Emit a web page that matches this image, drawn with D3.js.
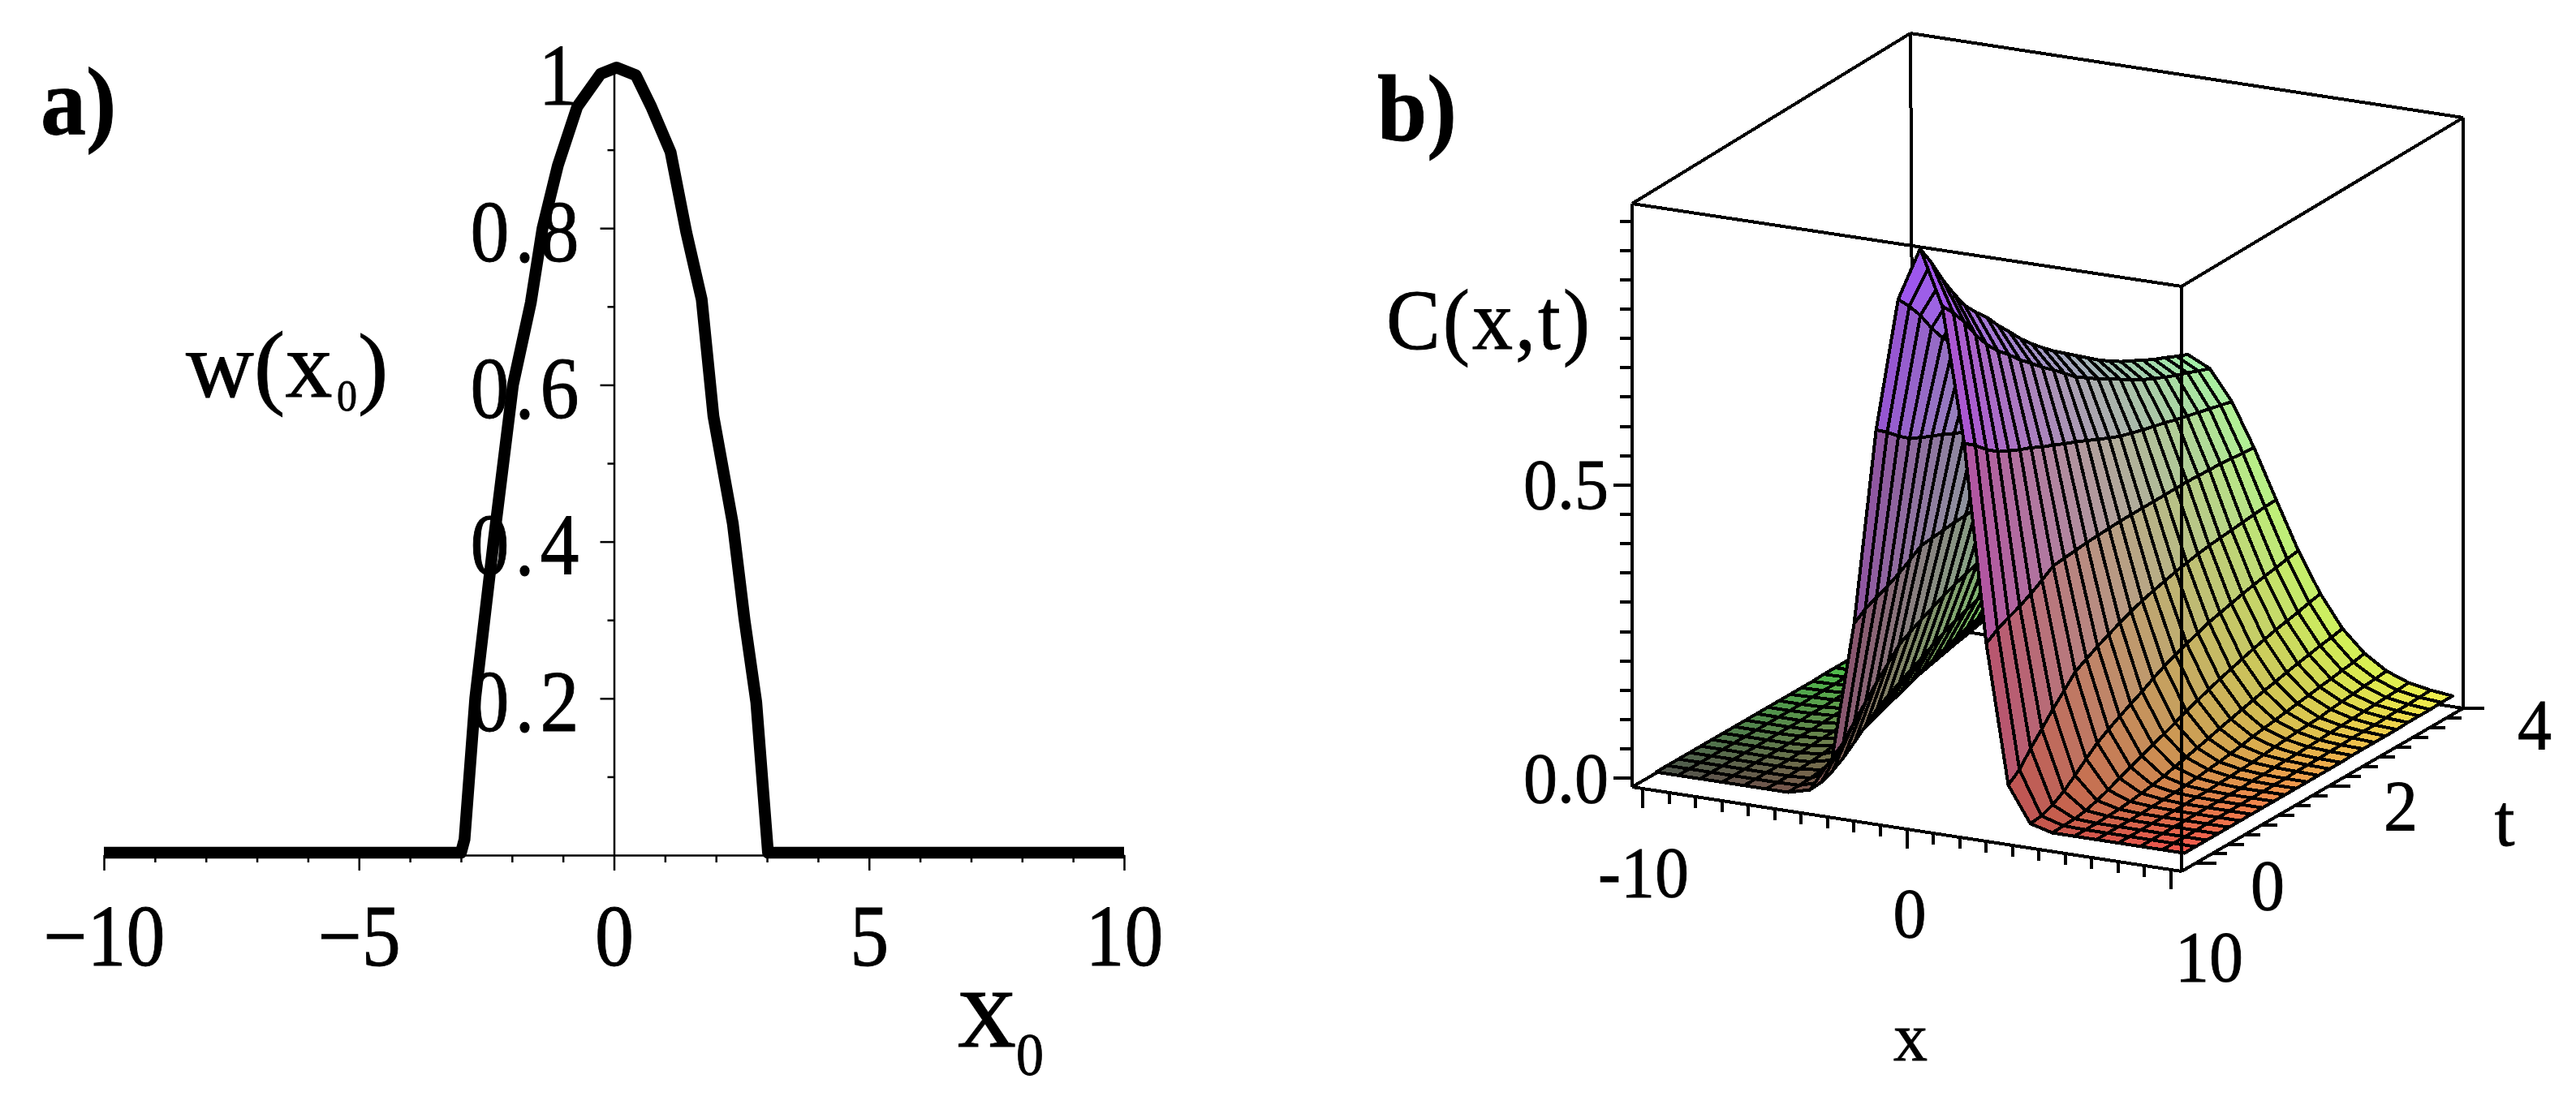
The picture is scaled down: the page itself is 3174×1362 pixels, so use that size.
<!DOCTYPE html>
<html><head><meta charset="utf-8">
<script src="https://cdn.jsdelivr.net/npm/d3@7/dist/d3.min.js"></script>
<style>html,body{margin:0;padding:0;background:#fff}svg{display:block}text{font-family:'Liberation Serif',serif;fill:#000;stroke:#000;stroke-width:.8px}</style>
</head><body><svg id="c" width="3174" height="1362"></svg>
<script>
// Panel a: w(x0)
const x0Values=[-10,-3,-2.93,-2.72,-2.36,-1.98,-1.63,-1.4,-1.1,-.72,-.26,.05,.43,.73,1.11,1.42,1.72,1.95,2.33,2.56,2.79,3.02,10];
const wValues=[.003,.003,.02,.2,.4,.6,.705,.8,.88,.955,.997,1.005,.995,.955,.897,.794,.709,.56,.423,.3,.195,.003,.003];
const xTicksA=d3.range(-10,11), yTicksA=d3.range(.1,1.01,.1);
// Panel b: C(x,t) x1000, rows for t = 0..4 in 24 steps, columns for 0..12 grid steps from the ridge
const cRows=[
[960,868,640,305,70,10],[925,845,625,318,85,12,1],[885,818,607,327,110,20,2],[850,785,592,335,132,32,5,1],
[818,757,582,345,155,48,11,2],[795,735,573,357,175,65,18,4,1],[775,717,565,370,196,81,27,7,2],
[750,697,555,372,207,93,35,10,3,1],[728,680,547,374,217,104,43,14,4,1],[705,662,538,376,226,114,51,19,6,2],
[685,646,530,377,235,124,58,24,9,3,1],[667,629,521,378,243,135,66,29,11,4,1],[650,612,512,379,250,145,75,34,14,5,2,1],
[635,599,503,379,256,153,82,40,17,7,3,1],[620,586,495,379,261,161,89,45,21,9,3,1],[605,575,489,379,266,168,96,50,24,11,4,2,1],
[590,563,483,379,270,175,102,55,27,13,5,2,1],[577,551,478,379,274,180,108,60,30,14,6,3,1],[565,540,473,379,277,185,114,64,33,15,7,3,1],
[555,531,467,378,279,190,119,69,36,18,8,3,1],[545,522,462,377,281,194,124,73,39,20,9,4,2],[535,514,457,376,283,198,128,77,42,22,10,5,2],
[527,507,452,374,285,201,132,81,45,24,11,5,2],[518,499,447,372,287,205,137,84,48,26,12,6,3],[510,492,442,370,288,208,141,88,52,28,14,7,3]];
const xTicksB=d3.range(-10,11), tTicksB=d3.range(0,4.01,.25), zTicksB=d3.range(0,.951,.05);

const svg=d3.select('#c');
function label(g,s,x,y,size,o={}){
  const t=g.append('text').text(s).attr('font-size',size).attr('text-anchor',o.anchor||'start')
   .attr('transform',`translate(${x},${y}) scale(1,${o.sy||1})`);
  if(o.bold)t.attr('font-weight','bold');
  if(o.len)t.attr('textLength',o.len).attr('lengthAdjust','spacing');
  return t;
}
// ---------- Panel a
const a=svg.append('g');
const xA=d3.scaleLinear([-10,10],[128,1385]), yA=d3.scaleLinear([0,1],[1054,88]);
const axB=a.append('g').attr('transform',`translate(0,${yA(0)})`)
 .call(d3.axisBottom(xA).tickValues(xTicksA).tickSizeOuter(0).tickFormat(d=>d%5===0?d3.format('d')(d):''));
axB.select('.domain').attr('stroke-width',2.5);
axB.selectAll('.tick line').attr('stroke-width',2.5).attr('y2',d=>d%5===0?19:9);
axB.selectAll('.tick text').attr('font-size',96).attr('y',0).attr('dy',0)
 .attr('transform','translate(0,136) scale(1,1.12)').attr('font-family',"'Liberation Serif',serif");
const axL=a.append('g').attr('transform',`translate(${xA(0)},0)`)
 .call(d3.axisLeft(yA).tickValues(yTicksA).tickSizeOuter(0).tickFormat(d=>{const r=Math.round(d*10);return r===10?'1':r%2===0?d3.format('.1f')(d):''}));
axL.select('.domain').attr('stroke-width',2.5);
axL.selectAll('.tick line').attr('stroke-width',2.5).attr('x2',d=>Math.round(d*10)%2===0?-17:-8);
axL.selectAll('.tick text').attr('font-size',96).attr('x',0).attr('dy',0).attr('y',0).style('letter-spacing','7px')
 .attr('text-anchor','end').attr('font-family',"'Liberation Serif',serif")
 .attr('transform',d=>`translate(${Math.round(d*10)===10?-38:-36},40) scale(1,1.12)`);
a.append('path').datum(d3.zip(x0Values,wValues)).attr('fill','none').attr('stroke','#000').attr('stroke-width',14.5)
 .attr('stroke-linejoin','round').attr('d',d3.line().x(d=>xA(d[0])).y(d=>yA(d[1])));
label(a,'a)',50,165,112,{bold:true,sy:1.05});
label(a,'w(x',229,489,116,{});
label(a,'0',415,506,50,{sy:1.1});
label(a,')',441,489,112,{});
label(a,'x',1180,1290,144,{});
label(a,'0',1252,1325,68,{sy:1.1});

// ---------- Panel b
const b=svg.append('g').attr('shape-rendering','crispEdges');
const fx=d3.scaleLinear([-10.4,10.4],[0,1]), ft=d3.scaleLinear([-.2,4],[0,1]), fz=d3.scaleLinear([-.015,.98],[0,1]);
const boxCorners={ // screen frame of the view box
 E:[2011,970],F:[2688,1074],G:[3035,873],H:[2358,769],A:[2011,251],B:[2688,353],C:[3035,145],D:[2354,41]};
function P(x,t,z){
  const u=fx(x),v=ft(t),w=fz(z),K=boxCorners;
  return [0,1].map(c=>{
    const bot=(K.E[c]*(1-u)+K.F[c]*u)*(1-v)+(K.H[c]*(1-u)+K.G[c]*u)*v;
    const top=(K.A[c]*(1-u)+K.B[c]*u)*(1-v)+(K.D[c]*(1-u)+K.C[c]*u)*v;
    return bot*(1-w)+top*w;});
}
const xMin=fx.domain()[0],xMax=fx.domain()[1],tMin=ft.domain()[0],tMax=ft.domain()[1],zMin=fz.domain()[0],zMax=fz.domain()[1];
const seg=(g,p,q,w=4)=>g.append('line').attr('x1',p[0]).attr('y1',p[1]).attr('x2',q[0]).attr('y2',q[1]).attr('stroke','#000').attr('stroke-width',w);
// back edges
seg(b,P(xMin,tMax,zMax),P(xMin,tMax,zMin));
seg(b,P(xMin,tMin,zMin),P(xMin,tMax,zMin));
seg(b,P(xMin,tMax,zMin),P(xMax,tMax,zMin));
seg(b,P(xMax,tMax,zMax),P(xMax,tMax,zMin));
// surface
const xi=d3.scaleLinear([0,24],[-10,10]), tj=d3.scaleLinear([0,24],[0,4]);
const Z=(i,j)=>(cRows[j][Math.abs(i-12)]||0)/1000;
const rScale=d3.scaleLinear([-10,10],[78,242]), gScale=d3.scaleLinear([0,4],[84,242]), bScale=d3.scaleLinear([0,.96],[76,248]);
const cells=[];
for(let j=24;j>=1;j--)for(let i=0;i<24;i++){
  const c=[[i,j-1],[i+1,j-1],[i+1,j],[i,j]];
  cells.push({pts:c.map(([m,n])=>P(xi(m),tj(n),Z(m,n))),
    col:d3.rgb(rScale(xi(i+.5)),gScale(tj(j-.5)),bScale(d3.mean(c,([m,n])=>Z(m,n)))).formatHex()});
}
b.append('g').selectAll('path').data(cells).join('path')
 .attr('d',d=>d3.line()(d.pts)+'Z').attr('fill',d=>d.col).attr('stroke','#000').attr('stroke-width',4).attr('stroke-linejoin','round');
// front edges
seg(b,P(xMin,tMin,zMax),P(xMax,tMin,zMax));
seg(b,P(xMax,tMin,zMax),P(xMax,tMax,zMax));
seg(b,P(xMax,tMax,zMax),P(xMin,tMax,zMax));
seg(b,P(xMin,tMax,zMax),P(xMin,tMin,zMax));
seg(b,P(xMin,tMin,zMax),P(xMin,tMin,zMin));
seg(b,P(xMax,tMin,zMax),P(xMax,tMin,zMin));
seg(b,P(xMin,tMin,zMin),P(xMax,tMin,zMin));
seg(b,P(xMax,tMin,zMin),P(xMax,tMax,zMin));
// axis ticks
zTicksB.forEach(z=>{const p=P(xMin,tMin,z),m=Math.abs(z*2%1)<1e-6;seg(b,p,[p[0]-(m?23:15),p[1]]);});
xTicksB.forEach(x=>{const p=P(x,tMin,zMin);seg(b,p,[p[0],p[1]+(x%10===0?24:14)]);});
tTicksB.forEach(t=>{const p=P(xMax,t,zMin);seg(b,p,[p[0]+(t%2===0?26:19),p[1]]);});
const tl=svg.append('g');
label(tl,'b)',1697,173,110,{bold:true,sy:1.05});
label(tl,'C(x,t)',1708,430,100,{len:251,sy:1.05});
label(tl,'0.5',1982,627,84,{anchor:'end',sy:1.05});
label(tl,'0.0',1982,989,84,{anchor:'end',sy:1.05});
label(tl,'-10',2025,1105,84,{anchor:'middle',sy:1.05});
label(tl,'0',2353,1155,82,{anchor:'middle',sy:1.05});
label(tl,'10',2722,1209,84,{anchor:'middle',sy:1.05});
label(tl,'x',2354,1307,84,{anchor:'middle'});
label(tl,'0',2794,1121,84,{anchor:'middle',sy:1.05});
label(tl,'2',2958,1023,84,{anchor:'middle',sy:1.05});
label(tl,'4',3123,923,84,{anchor:'middle',sy:1.05});
label(tl,'t',3086,1042,90,{anchor:'middle'});
</script></body></html>
